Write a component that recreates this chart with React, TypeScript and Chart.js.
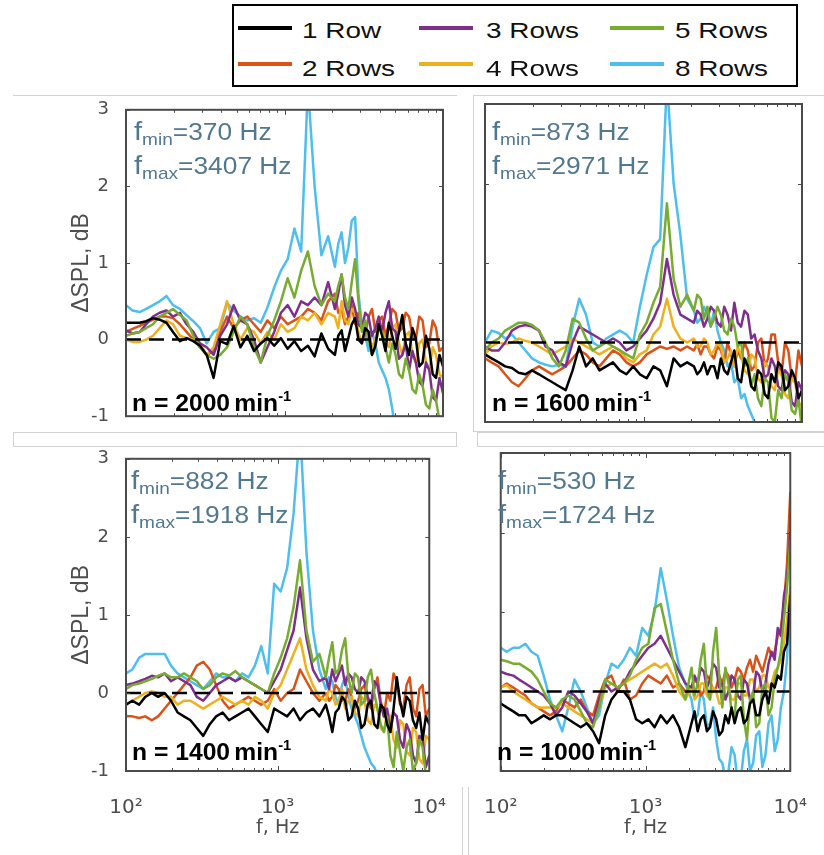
import React, { useEffect, useRef } from 'react';
import { Chart, registerables } from 'chart.js';

Chart.register(...registerables);

// ---------------- data ----------------
const FREQ_HZ = [100, 110, 122, 134, 148, 163, 180, 198, 219, 241, 266, 293, 323, 357, 393, 434, 478, 527, 582, 642, 708, 780, 861, 949, 1047, 1155, 1274, 1405, 1549, 1709, 1885,
  2079, 2183, 2293, 2408, 2529, 2656, 2789, 2929, 3077, 3231, 3393, 3564, 3743, 3931, 4128, 4335, 4553, 4782, 5022, 5274, 5539, 5817, 6109, 6416, 6738, 7077, 7432, 7806, 8197, 8609, 9041, 9495, 10000];

const ROW_LABELS = ['1 Row', '2 Rows', '3 Rows', '4 Rows', '5 Rows', '8 Rows'];
const ROW_COLORS = ['#000000', '#D95319', '#7E2F8E', '#EDB120', '#77AC30', '#4DBEEE'];
const ROW_DRAW_ORDER = [1, 5, 3, 4, 2, 6];

const Y_TICKS = [-1, 0, 1, 2, 3];
const X_TICKS = [100, 200, 300, 400, 500, 600, 700, 800, 900, 1000, 2000, 3000, 4000, 5000, 6000, 7000, 8000, 9000, 10000];
const X_MAJOR_TICKS = [100, 1000, 10000];
const X_MAJOR_LABELS = ['10²', '10³', '10⁴'];
const REF_LEVEL_DB = 0;

const SPEEDS = ['2000', '1600', '1400', '1000'];
const F_MIN = ['370', '873', '882', '530'];
const F_MAX = ['3407', '2971', '1918', '1724'];

// n = 2000 min^-1
const N2000_ROW1 = [0.22, 0.22, 0.22, 0.24, 0.28, 0.26, 0.22, 0.10, -0.02, 0.02, -0.02, -0.08, -0.20, -0.50, -0.02, -0.06, 0.18, -0.10, 0.05, -0.15, -0.05, 0.02, -0.08, 0.02, -0.12, -0.02, -0.15, -0.08, -0.22, 0.08, -0.12,
  -0.20, 0.05, 0.12, -0.15, 0.02, 0.20, 0.28, 0.00, -0.05, 0.15, 0.10, -0.20, -0.08, 0.20, 0.05, -0.15, 0.22, 0.05, -0.12, 0.10, 0.32, -0.05, -0.20, 0.15, 0.02, -0.35, -0.30, 0.05, -0.12, -0.45, -0.50, -0.20, -0.35];
const N2000_ROW2 = [0.10, 0.14, 0.18, 0.22, 0.26, 0.30, 0.30, 0.28, 0.20, 0.10, 0.00, -0.10, -0.20, -0.15, 0.10, 0.30, 0.15, 0.25, 0.30, 0.20, 0.10, 0.25, 0.15, 0.30, 0.20, 0.25, 0.30, 0.40, 0.35, 0.25, 0.50,
  0.60, 0.35, 0.40, 0.20, 0.30, 0.45, 0.20, 0.35, 0.15, 0.05, 0.30, 0.40, 0.10, 0.25, 0.30, 0.05, 0.20, 0.40, 0.35, 0.10, 0.15, 0.35, 0.30, 0.05, 0.00, 0.30, 0.25, -0.10, -0.05, 0.25, 0.15, -0.15, -0.10];
const N2000_ROW3 = [0.12, 0.08, 0.10, 0.20, 0.30, 0.35, 0.38, 0.30, 0.35, 0.20, 0.10, -0.05, -0.10, -0.20, 0.05, 0.20, 0.45, 0.25, 0.20, 0.00, -0.30, -0.10, 0.10, 0.35, 0.45, 0.30, 0.50, 0.45, 0.55, 0.45, 0.75,
  0.40, 0.60, 0.85, 0.45, 0.30, 0.55, 0.40, 0.20, 0.15, 0.35, 0.30, 0.05, 0.15, 0.30, 0.10, 0.35, 0.50, 0.15, 0.10, -0.25, -0.20, -0.05, -0.40, -0.15, -0.30, -0.55, -0.60, -0.30, -0.40, -0.75, -0.80, -0.50, -0.70];
const N2000_ROW4 = [0.00, -0.03, -0.03, 0.00, 0.05, 0.15, 0.25, 0.20, 0.05, 0.02, 0.00, -0.05, -0.20, -0.10, 0.20, 0.50, 0.20, 0.00, 0.15, 0.10, -0.05, 0.10, 0.00, 0.20, 0.10, 0.15, 0.30, 0.25, 0.35, 0.20, 0.35,
  0.30, 0.15, 0.50, 0.25, 0.20, 0.40, 0.35, 0.10, -0.05, 0.15, 0.10, -0.10, 0.00, 0.20, 0.15, -0.05, -0.10, 0.15, 0.20, -0.05, -0.20, 0.05, 0.10, -0.20, -0.30, -0.05, 0.00, -0.30, -0.40, -0.10, -0.20, -0.45, -0.50];
const N2000_ROW5 = [0.05, 0.08, 0.10, 0.15, 0.20, 0.30, 0.35, 0.40, 0.32, 0.25, 0.05, -0.10, -0.20, -0.25, -0.20, -0.10, 0.10, 0.30, 0.20, -0.10, -0.30, 0.05, 0.25, 0.50, 0.80, 0.55, 0.90, 1.15, 0.70, 0.45, 0.60,
  0.50, 0.70, 0.85, 0.55, 0.40, 0.75, 1.05, 0.50, 0.10, 0.25, 0.00, -0.20, -0.10, 0.15, 0.10, -0.10, -0.30, -0.05, -0.20, -0.45, -0.50, -0.25, -0.40, -0.65, -0.70, -0.45, -0.60, -0.85, -0.90, -0.65, -0.80, -1.05, -1.00];
const N2000_ROW8 = [0.45, 0.38, 0.36, 0.40, 0.45, 0.50, 0.57, 0.45, 0.40, 0.32, 0.24, 0.15, -0.05, 0.10, 0.15, 0.48, 0.38, 0.30, 0.25, 0.28, 0.22, 0.42, 0.68, 0.90, 1.05, 1.45, 1.15, 3.30, 2.00, 1.10, 1.35,
  0.95, 1.25, 1.40, 1.00, 1.20, 1.55, 1.60, 0.60, 0.20, 0.05, -0.15, 0.10, -0.05, -0.30, -0.40, -0.50, -0.65, -0.90, -1.20, -1.40, -1.50, -1.60, -1.60, -1.60, -1.60, -1.60, -1.60, -1.60, -1.60, -1.60, -1.60, -1.60, -1.60];

// n = 1600 min^-1
const N1600_ROW1 = [-0.15, -0.20, -0.25, -0.30, -0.32, -0.38, -0.40, -0.35, -0.40, -0.45, -0.50, -0.55, -0.60, -0.35, -0.05, -0.30, -0.20, -0.35, -0.30, -0.25, -0.35, -0.40, -0.30, -0.40, -0.45, -0.30, -0.35, -0.55, -0.20, -0.30, -0.25,
  -0.30, -0.40, -0.35, -0.25, -0.40, -0.30, -0.30, -0.45, -0.20, -0.35, -0.40, -0.25, -0.10, -0.45, -0.50, -0.20, -0.30, -0.55, -0.60, -0.35, -0.40, -0.65, -0.70, -0.40, -0.50, -0.25, -0.30, -0.60, -0.55, -0.35, -0.45, -0.70, -0.60];
const N1600_ROW2 = [-0.20, -0.25, -0.30, -0.40, -0.50, -0.55, -0.45, -0.35, -0.30, -0.35, -0.40, -0.35, -0.30, -0.20, -0.10, -0.15, -0.25, -0.30, -0.20, -0.10, -0.15, -0.25, -0.30, -0.25, -0.15, -0.10, -0.05, -0.08, -0.05, -0.10, -0.05,
  -0.10, -0.02, -0.15, -0.05, -0.05, -0.15, -0.20, -0.05, -0.10, -0.25, 0.00, -0.15, -0.30, -0.10, -0.20, 0.00, -0.10, -0.35, -0.30, 0.00, 0.05, -0.30, -0.20, 0.10, 0.10, -0.25, -0.40, 0.00, -0.10, -0.45, -0.50, -0.10, -0.30];
const N1600_ROW3 = [-0.05, -0.10, -0.10, 0.00, 0.15, 0.20, 0.22, 0.20, 0.15, -0.05, -0.10, -0.25, -0.30, 0.00, 0.20, 0.15, 0.10, 0.05, 0.00, 0.05, 0.00, -0.10, -0.05, 0.05, 0.15, 0.30, 0.50, 1.05, 0.60, 0.35, 0.30,
  0.25, 0.40, 0.35, 0.20, 0.30, 0.45, 0.40, 0.25, 0.20, 0.45, 0.35, 0.15, 0.50, 0.25, 0.20, 0.40, 0.35, 0.05, 0.10, -0.10, -0.20, -0.45, -0.40, -0.20, -0.30, -0.55, -0.60, -0.35, -0.40, -0.75, -0.80, -0.50, -0.60];
const N1600_ROW4 = [-0.15, -0.05, 0.00, -0.02, 0.00, 0.05, 0.02, 0.00, -0.05, -0.10, -0.15, -0.10, -0.05, 0.05, 0.00, -0.05, -0.10, -0.15, -0.10, -0.05, -0.10, -0.20, -0.25, -0.15, -0.10, 0.10, 0.20, 0.55, 0.20, 0.05, 0.00,
  0.05, -0.05, -0.05, 0.05, 0.00, -0.15, -0.10, 0.00, -0.05, -0.25, -0.20, -0.10, -0.30, -0.05, -0.15, -0.35, -0.40, -0.15, -0.20, -0.45, -0.50, -0.25, -0.30, -0.55, -0.60, -0.35, -0.40, -0.65, -0.70, -0.45, -0.50, -0.75, -0.80];
const N1600_ROW5 = [-0.10, 0.00, 0.05, 0.15, 0.20, 0.25, 0.25, 0.22, 0.15, 0.00, -0.20, -0.30, -0.10, 0.30, 0.25, 0.05, -0.10, -0.05, 0.00, -0.05, -0.10, -0.15, -0.20, 0.10, 0.25, 0.50, 0.70, 1.75, 0.80, 0.45, 0.60,
  0.40, 0.60, 0.55, 0.30, 0.45, 0.20, 0.30, 0.45, 0.35, 0.15, 0.10, 0.30, 0.20, -0.05, 0.00, -0.30, -0.20, -0.55, -0.40, -0.70, -0.80, -0.45, -0.50, -0.95, -1.00, -0.60, -0.70, -0.40, -0.50, -0.85, -0.90, -0.70, -1.10];
const N1600_ROW8 = [0.00, 0.15, 0.12, 0.05, 0.10, 0.00, -0.10, -0.20, -0.25, -0.28, -0.30, -0.28, -0.30, 0.20, 0.55, 0.35, 0.00, -0.05, 0.05, 0.10, 0.15, 0.10, 0.00, 0.45, 0.85, 1.20, 1.30, 3.30, 2.00, 1.35, 0.55,
  0.40, 0.25, 0.30, 0.45, 0.35, 0.20, 0.40, 0.15, 0.00, -0.10, -0.30, -0.25, -0.50, -0.45, -0.70, -0.65, -0.80, -0.90, -1.00, -1.10, -1.20, -1.30, -1.30, -1.30, -1.30, -1.30, -1.30, -1.30, -1.30, -1.30, -1.30, -1.30, -1.30];

// n = 1400 min^-1
const N1400_ROW1 = [-0.15, -0.10, -0.15, -0.05, 0.00, -0.05, 0.00, -0.10, -0.25, -0.30, -0.35, -0.45, -0.55, -0.40, -0.30, -0.25, -0.35, -0.30, -0.25, -0.20, -0.30, -0.40, -0.50, -0.20, -0.25, -0.30, -0.20, -0.35, -0.25, -0.20, -0.30,
  -0.15, -0.30, -0.50, -0.25, -0.20, -0.05, -0.10, -0.35, -0.30, -0.10, -0.20, -0.45, -0.40, -0.15, -0.10, -0.40, -0.45, -0.15, -0.20, -0.40, -0.50, -0.20, 0.20, -0.10, -0.30, -0.05, -0.10, -0.35, -0.45, -0.25, -0.60, -0.30, -0.40];
const N1400_ROW2 = [-0.30, -0.30, -0.32, -0.30, -0.35, -0.30, -0.20, -0.10, 0.00, 0.10, 0.20, 0.35, 0.40, 0.30, 0.10, -0.10, -0.20, -0.15, -0.10, -0.05, -0.10, -0.15, -0.10, 0.05, -0.10, 0.00, 0.05, 0.30, 0.15, 0.00, -0.10,
  0.00, -0.10, -0.05, 0.10, 0.05, -0.10, -0.10, 0.05, -0.05, -0.20, -0.10, 0.05, 0.10, -0.10, -0.20, 0.05, 0.20, -0.10, -0.30, 0.00, -0.10, 0.25, 0.15, -0.15, -0.20, 0.10, 0.20, -0.20, -0.30, 0.05, 0.10, -0.30, -0.20];
const N1400_ROW3 = [0.10, 0.12, 0.15, 0.18, 0.22, 0.20, 0.25, 0.15, 0.20, 0.15, 0.10, -0.05, -0.10, 0.00, 0.10, 0.15, 0.20, 0.15, 0.20, 0.15, 0.10, 0.05, 0.00, 0.15, 0.30, 0.55, 0.80, 1.35, 0.70, 0.30, 0.15,
  0.20, 0.05, 0.30, 0.15, 0.25, 0.35, 0.10, 0.25, 0.20, 0.05, 0.00, 0.20, 0.15, -0.05, -0.15, 0.15, 0.10, -0.15, -0.30, -0.20, -0.50, -0.25, -0.30, -0.60, -0.70, -0.40, -0.50, -0.80, -0.90, -0.55, -0.60, -0.95, -0.80];
const N1400_ROW4 = [-0.15, -0.10, -0.05, 0.00, 0.02, 0.00, -0.05, -0.05, -0.15, -0.10, -0.10, -0.15, -0.20, -0.15, -0.10, -0.05, -0.10, -0.15, -0.10, -0.15, -0.05, -0.10, -0.20, 0.00, 0.10, 0.30, 0.50, 0.70, 0.30, 0.10, -0.05,
  -0.10, 0.05, 0.00, -0.15, -0.10, 0.05, -0.20, -0.10, -0.05, -0.25, -0.30, -0.05, -0.10, -0.35, -0.40, -0.15, -0.20, -0.45, -0.50, -0.25, -0.30, -0.60, -0.70, -0.35, -0.40, -0.75, -0.80, -0.45, -0.50, -0.85, -0.90, -0.55, -0.60];
const N1400_ROW5 = [0.05, 0.10, 0.12, 0.15, 0.18, 0.22, 0.25, 0.20, 0.20, 0.25, 0.20, 0.15, 0.05, 0.10, 0.20, 0.25, 0.22, 0.28, 0.20, 0.15, 0.10, 0.05, 0.00, 0.25, 0.45, 0.70, 1.10, 1.70, 0.80, 0.40, 0.50,
  0.20, 0.45, 0.65, 0.25, 0.30, 0.55, 0.70, 0.20, 0.00, 0.25, 0.20, -0.15, -0.10, 0.20, 0.30, 0.00, -0.20, -0.40, -0.50, -0.30, -0.80, -0.95, -0.50, -0.75, -1.00, -0.70, -0.60, -1.00, -0.90, -0.60, -0.70, -1.05, -1.00];
const N1400_ROW8 = [0.25, 0.30, 0.45, 0.50, 0.50, 0.50, 0.50, 0.35, 0.25, 0.20, 0.15, 0.10, 0.05, 0.15, 0.25, 0.20, 0.20, 0.15, 0.25, 0.20, 0.35, 0.60, 0.25, 1.40, 1.30, 1.60, 2.30, 3.40, 1.80, 0.80, 0.30,
  0.05, 0.20, 0.15, -0.05, -0.15, 0.10, 0.20, -0.05, -0.20, -0.30, -0.40, -0.55, -0.70, -0.80, -0.90, -0.95, -1.05, -1.10, -1.20, -1.20, -1.20, -1.20, -1.20, -1.20, -1.20, -1.20, -1.20, -1.20, -1.20, -1.20, -1.20, -1.20, -1.20];

// n = 1000 min^-1
const N1000_ROW1 = [-0.15, -0.20, -0.25, -0.30, -0.30, -0.40, -0.35, -0.30, -0.35, -0.30, -0.30, -0.35, -0.40, -0.45, -0.40, -0.50, -0.65, -0.30, -0.10, 0.00, 0.00, -0.10, -0.35, -0.40, -0.35, -0.45, -0.30, -0.40, -0.30, -0.45, -0.70,
  -0.40, -0.25, -0.50, -0.35, -0.30, -0.50, -0.45, -0.25, -0.35, -0.55, -0.50, -0.30, -0.40, -0.20, -0.40, -0.25, -0.20, -0.40, -0.35, -0.15, -0.10, -0.30, -0.30, -0.10, 0.00, -0.15, 0.10, 0.05, 0.20, 0.15, 0.50, 0.60, 1.20];
const N1000_ROW2 = [0.05, 0.10, 0.05, 0.00, -0.05, -0.15, -0.20, -0.25, -0.30, -0.25, -0.10, -0.15, -0.20, -0.10, -0.25, -0.30, -0.05, 0.15, 0.20, 0.00, 0.15, -0.10, -0.05, 0.10, 0.20, 0.15, 0.10, 0.20, 0.05, 0.10, 0.00,
  0.05, 0.15, 0.10, -0.05, 0.00, 0.20, 0.15, 0.00, 0.05, 0.20, 0.10, 0.25, 0.20, 0.05, 0.15, 0.30, 0.25, 0.15, 0.30, 0.40, 0.25, 0.45, 0.35, 0.25, 0.40, 0.55, 0.45, 0.50, 0.70, 0.80, 1.10, 1.60, 2.50];
const N1000_ROW3 = [0.25, 0.22, 0.20, 0.15, 0.10, 0.05, 0.00, -0.05, -0.15, -0.30, -0.20, 0.00, -0.05, -0.15, -0.25, -0.40, -0.10, 0.10, 0.00, 0.05, 0.10, 0.25, 0.35, 0.45, 0.55, 0.60, 0.70, 0.55, 0.40, 0.25, 0.10,
  0.05, 0.20, 0.10, 0.30, 0.25, 0.05, 0.15, 0.35, 0.30, 0.05, 0.10, -0.10, 0.00, 0.20, 0.15, -0.05, -0.10, 0.15, 0.10, -0.10, -0.05, 0.25, 0.20, 0.00, 0.10, 0.35, 0.50, 0.40, 0.80, 0.70, 1.20, 1.40, 2.00];
const N1000_ROW4 = [0.05, 0.08, 0.00, -0.05, -0.10, -0.15, -0.20, -0.20, -0.20, -0.20, -0.15, -0.20, -0.25, -0.30, -0.35, -0.40, -0.20, 0.05, 0.10, 0.05, 0.10, 0.15, 0.20, 0.25, 0.30, 0.35, 0.30, 0.35, 0.20, 0.00, -0.10,
  0.05, -0.10, -0.05, 0.10, 0.10, -0.05, -0.10, 0.05, 0.00, -0.15, -0.15, 0.05, 0.05, -0.10, -0.10, 0.10, 0.10, -0.05, -0.05, 0.15, 0.15, 0.00, 0.05, 0.20, 0.20, 0.05, 0.10, 0.25, 0.30, 0.40, 0.60, 0.90, 1.30];
const N1000_ROW5 = [0.40, 0.38, 0.35, 0.35, 0.30, 0.25, 0.15, 0.00, -0.15, -0.20, -0.10, -0.05, -0.10, -0.25, -0.40, -0.45, -0.20, 0.15, 0.10, 0.05, 0.10, 0.20, 0.40, 0.55, 0.60, 1.05, 1.10, 0.75, 0.40, 0.10, -0.10,
  0.30, -0.05, 0.10, 0.40, 0.60, 0.05, -0.10, 0.50, 0.80, 0.20, -0.20, 0.30, 0.10, -0.25, -0.30, 0.15, 0.20, -0.35, -0.60, -0.10, 0.00, -0.45, -0.40, 0.05, 0.10, -0.30, -0.20, 0.15, 0.30, 0.50, 0.90, 1.30, 1.90];
const N1000_ROW8 = [0.55, 0.50, 0.55, 0.55, 0.60, 0.50, 0.45, 0.20, -0.10, -0.30, -0.50, -0.20, 0.15, 0.00, -0.20, -0.40, -0.30, 0.10, 0.35, 0.30, 0.40, 0.55, 0.45, 0.80, 0.70, 1.00, 1.55, 1.15, 0.70, 0.30, 0.10,
  -0.10, -0.35, -0.30, 0.00, -0.10, -0.45, -0.40, -0.20, -0.60, -0.85, -0.90, -1.10, -1.00, -0.70, -0.80, -1.15, -1.10, -0.75, -0.60, -1.00, -0.90, -0.55, -0.50, -0.95, -0.80, -0.40, -0.30, -0.75, -0.60, -0.20, 0.00, 0.40, 1.30];

const SERIES = [
  [N2000_ROW1, N2000_ROW2, N2000_ROW3, N2000_ROW4, N2000_ROW5, N2000_ROW8],
  [N1600_ROW1, N1600_ROW2, N1600_ROW3, N1600_ROW4, N1600_ROW5, N1600_ROW8],
  [N1400_ROW1, N1400_ROW2, N1400_ROW3, N1400_ROW4, N1400_ROW5, N1400_ROW8],
  [N1000_ROW1, N1000_ROW2, N1000_ROW3, N1000_ROW4, N1000_ROW5, N1000_ROW8],
];

// ---------------- layout / style ----------------
const PANEL_POS = [
  { left: 126, top: 104 },
  { left: 485, top: 104 },
  { left: 126, top: 453 },
  { left: 487, top: 453 },
];
const PLOT_W = 317;
const PLOT_H = 318;
const PAD_T = 14;
const PAD_R = 20;
const TEXT_GRAY = '#4d4d4d';
const FRAME_GRAY = '#4a4a4a';
const STEEL = '#52788f';
const DEJAVU = '"DejaVu Sans", sans-serif';
const ARIAL = '"Liberation Sans", Arial, sans-serif';
const CROP_GRAY = '#d2d2d2';

const framePlugin = {
  id: 'matlabFrame',
  afterDatasetsDraw(chart: any) {
    const { ctx, chartArea: a, scales } = chart;
    const xs = scales.x;
    const ys = scales.y;
    ctx.save();
    ctx.strokeStyle = FRAME_GRAY;
    ctx.lineWidth = 1;
    ctx.beginPath();
    for (const v of X_TICKS) {
      const px = Math.round(xs.getPixelForValue(v)) + 0.5;
      const len = X_MAJOR_TICKS.includes(v) ? 5 : 3;
      ctx.moveTo(px, a.bottom);
      ctx.lineTo(px, a.bottom - len);
      ctx.moveTo(px, a.top);
      ctx.lineTo(px, a.top + len);
    }
    for (const v of Y_TICKS) {
      const py = Math.round(ys.getPixelForValue(v)) + 0.5;
      ctx.moveTo(a.left, py);
      ctx.lineTo(a.left + 4, py);
      ctx.moveTo(a.right, py);
      ctx.lineTo(a.right - 4, py);
    }
    ctx.stroke();
    ctx.lineWidth = 2;
    ctx.strokeRect(a.left, a.top, a.right - a.left, a.bottom - a.top);
    ctx.restore();
  },
};

function Panel({ idx }: { idx: number }) {
  const ref = useRef<HTMLCanvasElement | null>(null);
  const pos = PANEL_POS[idx];
  const showY = idx % 2 === 0;
  const showX = idx >= 2;
  const yW = showY ? 70 : 20;
  const xH = showX ? 75 : 14;
  const cw = yW + PLOT_W + PAD_R;
  const ch = PAD_T + PLOT_H + xH;

  useEffect(() => {
    const datasets: any[] = SERIES[idx].map((vals, i) => ({
      label: ROW_LABELS[i],
      data: FREQ_HZ.map((f, j) => ({ x: f, y: vals[j] })),
      borderColor: ROW_COLORS[i],
      backgroundColor: ROW_COLORS[i],
      borderWidth: 2.5,
      pointRadius: 0,
      tension: 0,
      fill: false,
      borderJoinStyle: 'round',
      borderCapStyle: 'round',
      order: ROW_DRAW_ORDER[i],
    }));
    datasets.push({
      label: 'reference',
      data: X_MAJOR_TICKS.map((f) => ({ x: f, y: REF_LEVEL_DB })),
      borderColor: '#000000',
      borderWidth: 2.5,
      borderDash: [15, 8],
      pointRadius: 0,
      fill: false,
      order: 0,
    });

    const chart = new Chart(ref.current as HTMLCanvasElement, {
      type: 'line',
      data: { datasets },
      options: {
        animation: false,
        responsive: false,
        maintainAspectRatio: false,
        devicePixelRatio: 1,
        events: [],
        layout: { padding: { top: PAD_T, right: PAD_R, left: 0, bottom: 0 } },
        plugins: { legend: { display: false }, tooltip: { enabled: false } },
        scales: {
          x: {
            type: 'logarithmic',
            position: 'bottom',
            min: 100,
            max: 10000,
            grid: { display: false },
            border: { display: false },
            afterFit: (s: any) => { s.height = xH; },
            afterBuildTicks: (s: any) => { s.ticks = X_MAJOR_TICKS.map((v) => ({ value: v })); },
            ticks: {
              display: showX,
              autoSkip: false,
              maxRotation: 0,
              minRotation: 0,
              padding: 17,
              color: TEXT_GRAY,
              font: { family: DEJAVU, size: 20 },
              callback: (v: any) => {
                const k = X_MAJOR_TICKS.indexOf(Number(v));
                return k >= 0 ? X_MAJOR_LABELS[k] : '';
              },
            },
            title: {
              display: showX,
              text: 'f, Hz',
              color: TEXT_GRAY,
              font: { family: DEJAVU, size: 19 },
              padding: { top: 0, bottom: 7 },
            },
          },
          y: {
            type: 'linear',
            min: -1,
            max: 3,
            grid: { display: false },
            border: { display: false },
            afterFit: (s: any) => { s.width = yW; },
            afterBuildTicks: (s: any) => { s.ticks = Y_TICKS.map((v) => ({ value: v })); },
            ticks: {
              display: showY,
              padding: 9,
              color: TEXT_GRAY,
              font: { family: DEJAVU, size: 18 },
              callback: (v: any) => String(v),
            },
            title: {
              display: showY,
              text: 'ΔSPL, dB',
              color: TEXT_GRAY,
              font: { family: ARIAL, size: 23 },
              padding: { top: 12, bottom: 0 },
            },
          },
        },
      } as any,
      plugins: [framePlugin],
    });
    return () => chart.destroy();
  }, [idx]);

  return (
    <canvas
      ref={ref}
      width={cw}
      height={ch}
      style={{ position: 'absolute', left: pos.left - yW, top: pos.top - PAD_T, width: cw, height: ch }}
    />
  );
}

function Annotation({ idx }: { idx: number }) {
  const pos = PANEL_POS[idx];
  const size = 23.5;
  const lefts = [8, 7, 5, 11];
  const base: React.CSSProperties = {
    position: 'absolute',
    left: pos.left + lefts[idx],
    fontFamily: ARIAL,
    fontSize: size,
    lineHeight: `${size}px`,
    color: STEEL,
    whiteSpace: 'nowrap',
    transform: 'scaleX(1.12)',
    transformOrigin: '0 0',
  };
  const fStyle: React.CSSProperties = { fontSize: 26 };
  const sub: React.CSSProperties = { fontSize: 17, position: 'relative', top: 5 };
  const b1 = pos.top + 36;
  const b2 = pos.top + 70;
  const speedLefts = [6, 7, 6, 10];
  return (
    <>
      <div style={{ ...base, top: b1 - 0.8465 * size }}>
        <span style={fStyle}>f</span><span style={sub}>min</span>={F_MIN[idx]} Hz
      </div>
      <div style={{ ...base, top: b2 - 0.8465 * size }}>
        <span style={fStyle}>f</span><span style={sub}>max</span>={F_MAX[idx]} Hz
      </div>
      <div
        style={{
          position: 'absolute',
          left: pos.left + speedLefts[idx],
          top: pos.top + PLOT_H - 10 - 0.8465 * size,
          fontFamily: ARIAL,
          fontWeight: 'bold',
          fontSize: size,
          lineHeight: `${size}px`,
          color: '#000',
          whiteSpace: 'nowrap',
          transform: 'scaleX(1.05)',
          transformOrigin: '0 0',
        }}
      >
        n = {SPEEDS[idx]}
        <span style={{ marginLeft: 4 }}>min</span>
        <span style={{ fontSize: 14, position: 'relative', top: -10 }}>-1</span>
      </div>
    </>
  );
}

function Legend() {
  const lineX = [238, 419, 610];
  const textX = [302, 486, 675];
  const lineY = [28, 64];
  const baseY = [39, 77];
  const size = 22.5;
  return (
    <>
      <div
        style={{
          position: 'absolute',
          left: 232,
          top: 4,
          width: 566,
          height: 83,
          boxSizing: 'border-box',
          border: '2px solid #000',
          background: '#fff',
        }}
      />
      {ROW_LABELS.map((lab, i) => {
        const c = Math.floor(i / 2);
        const r = i % 2;
        return (
          <React.Fragment key={lab}>
            <div
              style={{
                position: 'absolute',
                left: lineX[c],
                top: lineY[r] - 2,
                width: 54,
                height: 4,
                background: ROW_COLORS[i],
              }}
            />
            <div
              style={{
                position: 'absolute',
                left: textX[c],
                top: baseY[r] - 0.8465 * size,
                fontFamily: ARIAL,
                fontSize: size,
                lineHeight: `${size}px`,
                color: '#111',
                whiteSpace: 'nowrap',
                transform: 'scaleX(1.24)',
                transformOrigin: '0 0',
              }}
            >
              {lab}
            </div>
          </React.Fragment>
        );
      })}
    </>
  );
}

function CropFrames() {
  const line = (s: React.CSSProperties) => <div style={{ position: 'absolute', boxSizing: 'border-box', ...s }} />;
  return (
    <>
      {line({ left: 13, top: 95, width: 444, height: 1, background: CROP_GRAY })}
      {line({ left: 473, top: 95, width: 360, height: 337, borderTop: `1px solid ${CROP_GRAY}`, borderLeft: `1px solid ${CROP_GRAY}`, borderBottom: `1px solid ${CROP_GRAY}` })}
      {line({ left: 13, top: 432, width: 444, height: 15, border: `1px solid ${CROP_GRAY}` })}
      {line({ left: 477, top: 432, width: 360, height: 15, border: `1px solid ${CROP_GRAY}` })}
      {line({ left: 462, top: 787, width: 7, height: 70, borderLeft: `1px solid ${CROP_GRAY}`, borderRight: `1px solid ${CROP_GRAY}` })}
    </>
  );
}

export default function App() {
  return (
    <div style={{ position: 'absolute', left: 0, top: 0, width: 824, height: 855, background: '#fff', overflow: 'hidden' }}>
      <CropFrames />
      {[0, 1, 2, 3].map((i) => (
        <Panel key={`p${i}`} idx={i} />
      ))}
      {[0, 1, 2, 3].map((i) => (
        <Annotation key={`a${i}`} idx={i} />
      ))}
      <Legend />
    </div>
  );
}
